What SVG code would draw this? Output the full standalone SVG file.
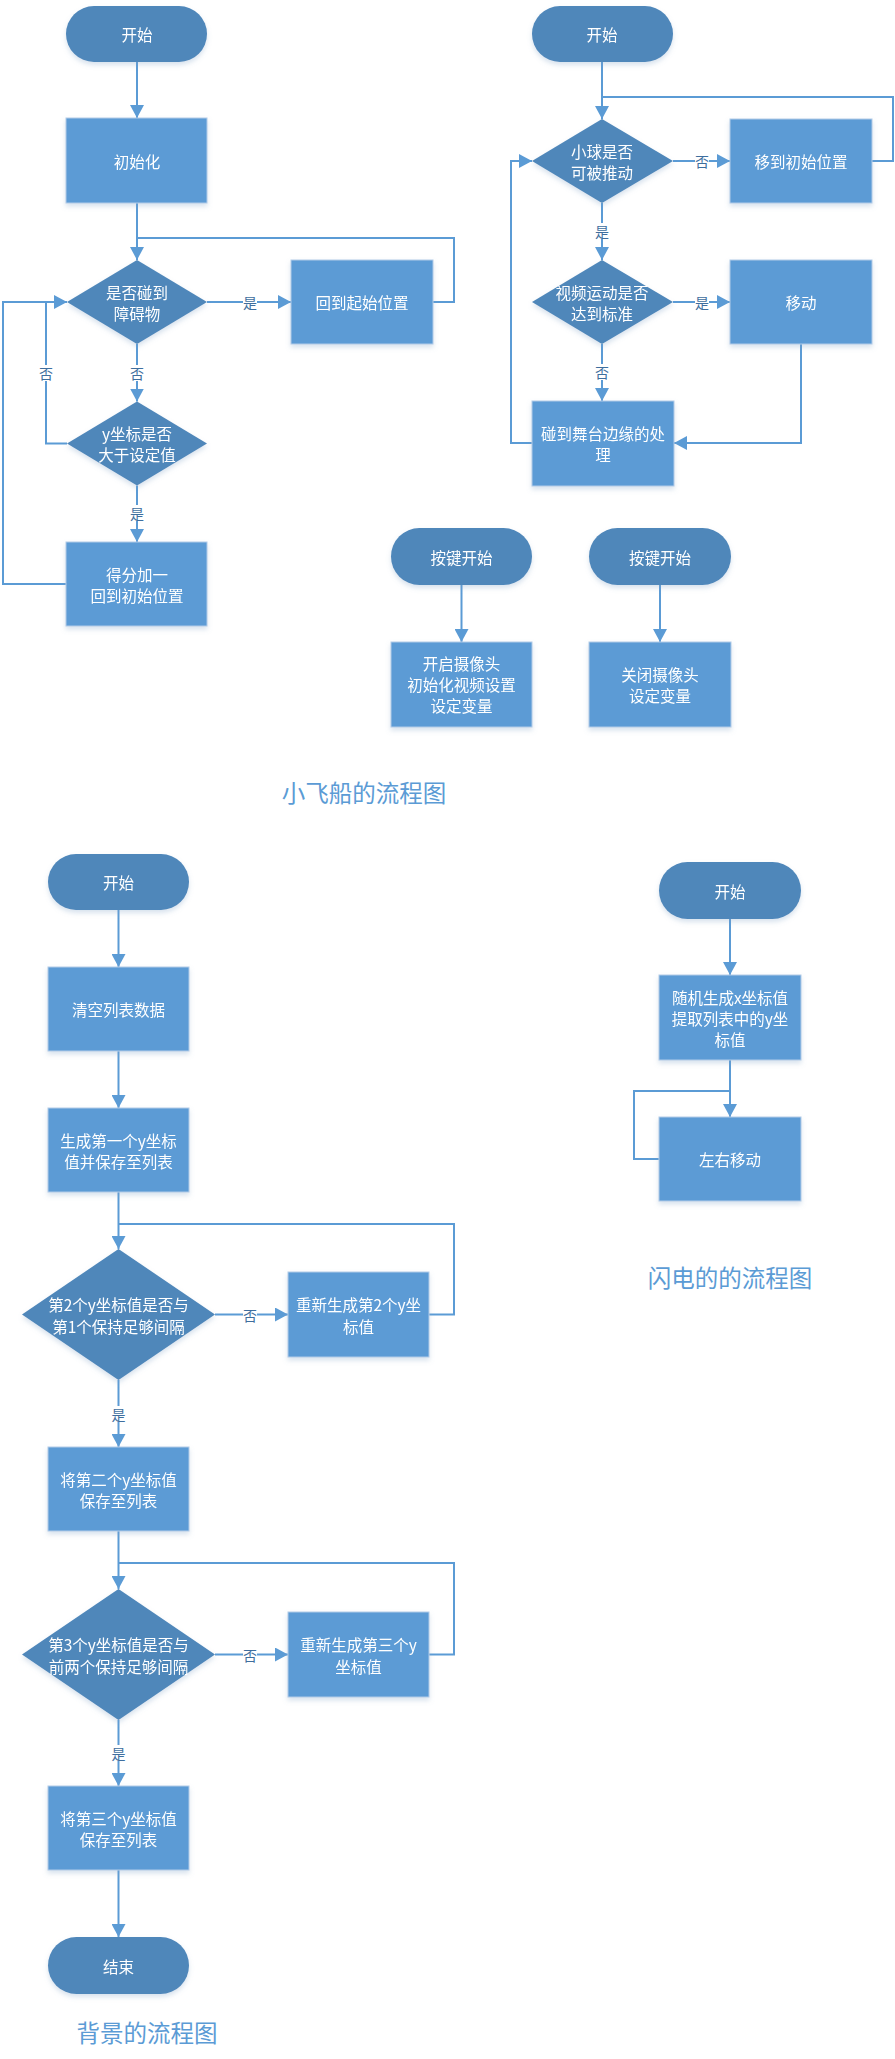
<svg xmlns="http://www.w3.org/2000/svg" width="895" height="2059" viewBox="0 0 895 2059">
<style>
.term{fill:#4f87ba;}
.box{fill:#5b9bd5;stroke:#b3cbe8;stroke-width:1;}
.dia{fill:#4f87ba;}
.t{font-family:"Noto Sans CJK SC","Noto Sans",sans-serif;font-size:15.5px;fill:#ffffff;text-anchor:middle;dominant-baseline:central;}
.lbl{font-family:"Noto Sans CJK SC","Noto Sans",sans-serif;font-size:14px;fill:#3e6e9e;text-anchor:middle;dominant-baseline:central;}
.lb{fill:#ffffff;}
.title{font-family:"Noto Sans CJK SC","Noto Sans",sans-serif;font-size:23.5px;fill:#5b9bd5;text-anchor:middle;dominant-baseline:central;}
.c{fill:none;stroke:#5b9bd5;stroke-width:2;}
.a{marker-end:url(#arr);}
</style>
<defs>
<marker id="arr" viewBox="0 0 13 14" refX="13" refY="7" markerWidth="13" markerHeight="14" markerUnits="userSpaceOnUse" orient="auto">
<path d="M0,0 L13,7 L0,14 z" fill="#5b9bd5"/>
</marker>
<filter id="sh" x="-10%" y="-10%" width="120%" height="130%">
<feDropShadow dx="0" dy="3" stdDeviation="2.5" flood-color="#7f9fc4" flood-opacity="0.3"/>
</filter>
</defs>
<rect width="895" height="2059" fill="#ffffff"/>

<g id="connectors">
<!-- ship flow -->
<path class="c a" d="M137,62 V118"/>
<path class="c a" d="M137,203 V260"/>
<path class="c a" d="M207,302 H291"/>
<path class="c" d="M433,302 H454 V238 H137"/>
<path class="c a" d="M137,344 V401.5"/>
<path class="c a" d="M67,443.5 H46 V302 H67"/>
<path class="c a" d="M137,485.5 V542"/>
<path class="c" d="M66,584 H3 V302 H46"/>
<!-- ball flow -->
<path class="c a" d="M602,62 V119"/>
<path class="c a" d="M673,161 H730"/>
<path class="c" d="M872,161 H893 V97 H602"/>
<path class="c a" d="M602,203 V260"/>
<path class="c a" d="M673,302 H730"/>
<path class="c a" d="M801,344 V443 H674"/>
<path class="c a" d="M602,344 V401"/>
<path class="c a" d="M532,443 H511 V161 H532"/>
<!-- key flows -->
<path class="c a" d="M461.5,585 V642"/>
<path class="c a" d="M660,585 V642"/>
<!-- background flow -->
<path class="c a" d="M118.5,910 V967"/>
<path class="c a" d="M118.5,1051 V1108"/>
<path class="c a" d="M118.5,1192 V1249"/>
<path class="c a" d="M215,1314.5 H288"/>
<path class="c" d="M429,1314.5 H454 V1224 H118.5"/>
<path class="c a" d="M118.5,1380 V1447"/>
<path class="c a" d="M118.5,1531 V1589"/>
<path class="c a" d="M215,1654.5 H288"/>
<path class="c" d="M429,1654.5 H454 V1563 H118.5"/>
<path class="c a" d="M118.5,1720 V1786"/>
<path class="c a" d="M118.5,1870 V1937"/>
<!-- lightning flow -->
<path class="c a" d="M730,919 V975"/>
<path class="c a" d="M730,1060 V1117"/>
<path class="c" d="M659,1159 H634 V1091 H730"/>
<!-- labels -->
<g id="labels">
<rect class="lb" x="243" y="294" width="14" height="16"/><text class="lbl" x="250" y="302">是</text>
<rect class="lb" x="130" y="365" width="14" height="16"/><text class="lbl" x="137" y="373">否</text>
<rect class="lb" x="39" y="365" width="14" height="16"/><text class="lbl" x="46" y="373">否</text>
<rect class="lb" x="130" y="505" width="14" height="16"/><text class="lbl" x="137" y="513">是</text>
<rect class="lb" x="695" y="153" width="14" height="16"/><text class="lbl" x="702" y="161">否</text>
<rect class="lb" x="595" y="223" width="14" height="16"/><text class="lbl" x="602" y="231">是</text>
<rect class="lb" x="695" y="294" width="14" height="16"/><text class="lbl" x="702" y="302">是</text>
<rect class="lb" x="595" y="364" width="14" height="16"/><text class="lbl" x="602" y="372">否</text>
<rect class="lb" x="243" y="1306.5" width="14" height="16"/><text class="lbl" x="250" y="1314.5">否</text>
<rect class="lb" x="111.5" y="1406" width="14" height="16"/><text class="lbl" x="118.5" y="1414">是</text>
<rect class="lb" x="243" y="1646.5" width="14" height="16"/><text class="lbl" x="250" y="1654.5">否</text>
<rect class="lb" x="111.5" y="1745" width="14" height="16"/><text class="lbl" x="118.5" y="1753">是</text>
</g>
</g>

<!-- ship flow nodes -->
<g id="ship-start" filter="url(#sh)"><rect class="term" x="66" y="6" width="141" height="56" rx="28"/><text class="t" x="137" y="34">开始</text></g>
<g id="ship-init" filter="url(#sh)"><rect class="box" x="66" y="118" width="141" height="85"/><text class="t" x="137" y="160.5">初始化</text></g>
<g id="ship-hit" filter="url(#sh)"><polygon class="dia" points="137,260 207,302 137,344 67,302"/><text class="t" x="137" y="291.5">是否碰到</text><text class="t" x="137" y="312.5">障碍物</text></g>
<g id="ship-back" filter="url(#sh)"><rect class="box" x="291" y="260" width="142" height="84"/><text class="t" x="362" y="302">回到起始位置</text></g>
<g id="ship-y" filter="url(#sh)"><polygon class="dia" points="137,401.5 207,443.5 137,485.5 67,443.5"/><text class="t" x="137" y="433">y坐标是否</text><text class="t" x="137" y="454">大于设定值</text></g>
<g id="ship-score" filter="url(#sh)"><rect class="box" x="66" y="542" width="141" height="84"/><text class="t" x="137" y="573.5">得分加一</text><text class="t" x="137" y="594.5">回到初始位置</text></g>

<!-- ball flow nodes -->
<g id="ball-start" filter="url(#sh)"><rect class="term" x="532" y="6" width="141" height="56" rx="28"/><text class="t" x="602" y="34">开始</text></g>
<g id="ball-push" filter="url(#sh)"><polygon class="dia" points="602,119 673,161 602,203 532,161"/><text class="t" x="602" y="150.5">小球是否</text><text class="t" x="602" y="171.5">可被推动</text></g>
<g id="ball-reset" filter="url(#sh)"><rect class="box" x="730" y="119" width="142" height="84"/><text class="t" x="801" y="161">移到初始位置</text></g>
<g id="ball-video" filter="url(#sh)"><polygon class="dia" points="602,260 673,302 602,344 532,302"/><text class="t" x="602" y="291.5">视频运动是否</text><text class="t" x="602" y="312.5">达到标准</text></g>
<g id="ball-move" filter="url(#sh)"><rect class="box" x="730" y="260" width="142" height="84"/><text class="t" x="801" y="302">移动</text></g>
<g id="ball-edge" filter="url(#sh)"><rect class="box" x="532" y="401" width="142" height="85"/><text class="t" x="603" y="433">碰到舞台边缘的处</text><text class="t" x="603" y="454">理</text></g>

<!-- key flows -->
<g id="key-start1" filter="url(#sh)"><rect class="term" x="391" y="528" width="141" height="57" rx="28.5"/><text class="t" x="461.5" y="556.5">按键开始</text></g>
<g id="cam-open" filter="url(#sh)"><rect class="box" x="391" y="642" width="141" height="85"/><text class="t" x="461.5" y="663">开启摄像头</text><text class="t" x="461.5" y="684">初始化视频设置</text><text class="t" x="461.5" y="705">设定变量</text></g>
<g id="key-start2" filter="url(#sh)"><rect class="term" x="589" y="528" width="142" height="57" rx="28.5"/><text class="t" x="660" y="556.5">按键开始</text></g>
<g id="cam-close" filter="url(#sh)"><rect class="box" x="589" y="642" width="142" height="85"/><text class="t" x="660" y="674">关闭摄像头</text><text class="t" x="660" y="695">设定变量</text></g>
<text class="title" x="364" y="792">小飞船的流程图</text>

<!-- background flow -->
<g id="bg-start" filter="url(#sh)"><rect class="term" x="48" y="854" width="141" height="56" rx="28"/><text class="t" x="118.5" y="882">开始</text></g>
<g id="bg-clear" filter="url(#sh)"><rect class="box" x="48" y="967" width="141" height="84"/><text class="t" x="118.5" y="1009">清空列表数据</text></g>
<g id="bg-gen1" filter="url(#sh)"><rect class="box" x="48" y="1108" width="141" height="84"/><text class="t" x="118.5" y="1139.5">生成第一个y坐标</text><text class="t" x="118.5" y="1160.5">值并保存至列表</text></g>
<g id="bg-check2" filter="url(#sh)"><polygon class="dia" points="118.5,1249 215,1314.5 118.5,1380 22,1314.5"/><text class="t" x="118.5" y="1304">第2个y坐标值是否与</text><text class="t" x="118.5" y="1325.5">第1个保持足够间隔</text></g>
<g id="bg-regen2" filter="url(#sh)"><rect class="box" x="288" y="1272" width="141" height="85"/><text class="t" x="358.5" y="1304">重新生成第2个y坐</text><text class="t" x="358.5" y="1325.5">标值</text></g>
<g id="bg-save2" filter="url(#sh)"><rect class="box" x="48" y="1447" width="141" height="84"/><text class="t" x="118.5" y="1478.5">将第二个y坐标值</text><text class="t" x="118.5" y="1499.5">保存至列表</text></g>
<g id="bg-check3" filter="url(#sh)"><polygon class="dia" points="118.5,1589 215,1654.5 118.5,1720 22,1654.5"/><text class="t" x="118.5" y="1644">第3个y坐标值是否与</text><text class="t" x="118.5" y="1665.5">前两个保持足够间隔</text></g>
<g id="bg-regen3" filter="url(#sh)"><rect class="box" x="288" y="1612" width="141" height="85"/><text class="t" x="358.5" y="1644">重新生成第三个y</text><text class="t" x="358.5" y="1665.5">坐标值</text></g>
<g id="bg-save3" filter="url(#sh)"><rect class="box" x="48" y="1786" width="141" height="84"/><text class="t" x="118.5" y="1817.5">将第三个y坐标值</text><text class="t" x="118.5" y="1838.5">保存至列表</text></g>
<g id="bg-end" filter="url(#sh)"><rect class="term" x="48" y="1937" width="141" height="57" rx="28.5"/><text class="t" x="118.5" y="1965.5">结束</text></g>
<text class="title" x="147" y="2032">背景的流程图</text>

<!-- lightning flow -->
<g id="ln-start" filter="url(#sh)"><rect class="term" x="659" y="862" width="142" height="57" rx="28.5"/><text class="t" x="730" y="890.5">开始</text></g>
<g id="ln-gen" filter="url(#sh)"><rect class="box" x="659" y="975" width="142" height="85"/><text class="t" x="730" y="997">随机生成x坐标值</text><text class="t" x="730" y="1018">提取列表中的y坐</text><text class="t" x="730" y="1039">标值</text></g>
<g id="ln-move" filter="url(#sh)"><rect class="box" x="659" y="1117" width="142" height="84"/><text class="t" x="730" y="1159">左右移动</text></g>
<text class="title" x="730" y="1277">闪电的的流程图</text>
</svg>
